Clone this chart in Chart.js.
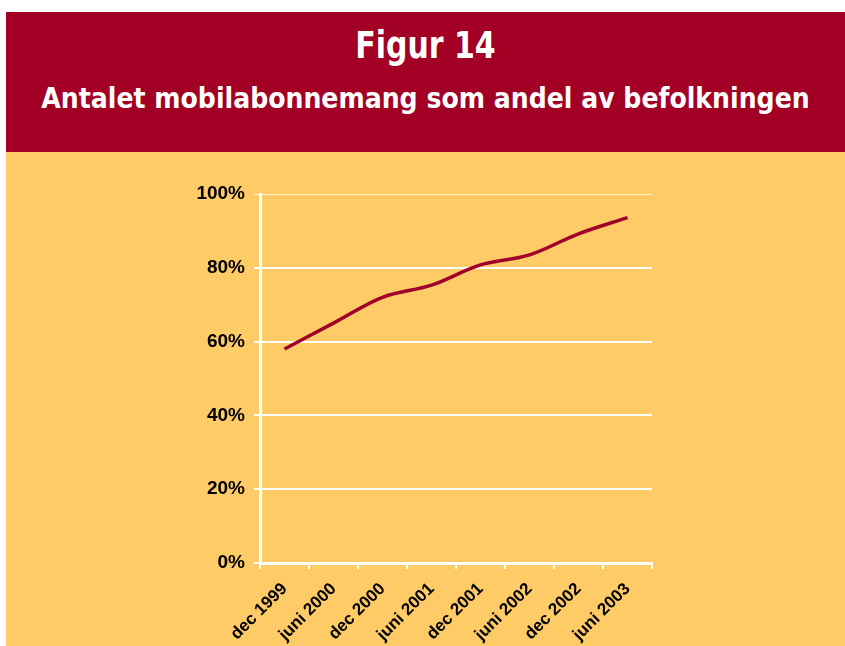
<!DOCTYPE html>
<html lang="sv">
<head>
<meta charset="UTF-8">
<title>Figur 14</title>
<style>
    body { margin: 0; background: #fff; width: 845px; height: 646px; overflow: hidden; }
    #header {
        position: absolute; left: 6px; top: 12px; width: 839px; height: 140px;
        background: #A30025; color: #fff; text-align: center;
        font-family: "DejaVu Sans Condensed", "DejaVu Sans", sans-serif; font-weight: bold;
    }
    #header h1 { margin: 0; position: absolute; top: 12px; width: 100%; font-size: 37px; transform: scaleX(0.9); }
    #header h2 { margin: 0; position: absolute; top: 70px; width: 100%; font-size: 28px; }
    #plot { position: absolute; left: 6px; top: 152px; width: 839px; height: 494px; background: #FECB66; }
</style>
</head>
<body>
<div id="header">
    <h1>Figur 14</h1>
    <h2>Antalet mobilabonnemang som andel av befolkningen</h2>
</div>
<div id="plot"><canvas id="myChart" width="839" height="494"></canvas></div>

<script src="https://cdn.jsdelivr.net/npm/chart.js@4.4.1/dist/chart.umd.min.js"></script>
<script>
    var periods = ['dec 1999', 'juni 2000', 'dec 2000', 'juni 2001', 'dec 2001', 'juni 2002', 'dec 2002', 'juni 2003'];
    var shares = [58, 65, 72, 75.3, 80.8, 83.5, 89.2, 93.6];
    var yTicks = [0, 20, 40, 60, 80, 100];

    var ctx = document.getElementById('myChart').getContext('2d');
    new Chart(ctx, {
        type: 'line',
        data: {
            labels: periods,
            datasets: [{
                data: shares,
                borderColor: '#A0002A',
                borderWidth: 3.5,
                tension: 0.35,
                pointRadius: 0,
                fill: false
            }]
        },
        options: {
            responsive: false,
            animation: false,
            layout: { padding: { top: 42, right: 193, left: 0, bottom: 0 } },
            plugins: { legend: { display: false }, tooltip: { enabled: false } },
            scales: {
                x: {
                    offset: true,
                    afterFit: function (s) { s.height = 83; },
                    border: { color: '#fff', width: 3 },
                    grid: { offset: true, drawOnChartArea: false, color: '#fff', lineWidth: 2, tickLength: 6 },
                    ticks: {
                        color: '#000', minRotation: 45, maxRotation: 45, padding: 10,
                        font: { family: 'Liberation Sans, Arial, sans-serif', size: 17, weight: 'bold' }
                    }
                },
                y: {
                    min: 0, max: 100,
                    afterFit: function (s) { s.width = 254; },
                    afterBuildTicks: function (s) { s.ticks = yTicks.map(function (v) { return { value: v }; }); },
                    border: { color: '#fff', width: 3 },
                    grid: {
                        color: function (c) { return c.tick && c.tick.value === 100 ? 'rgba(255,255,255,0.7)' : '#fff'; },
                        lineWidth: function (c) { return c.tick && c.tick.value === 100 ? 1 : 2; },
                        tickLength: 6
                    },
                    ticks: {
                        color: '#000', padding: 9,
                        callback: function (v) { return v + '%'; },
                        font: { family: 'Liberation Sans, Arial, sans-serif', size: 19, weight: 'bold' }
                    }
                }
            }
        }
    });
</script>
</body>
</html>
